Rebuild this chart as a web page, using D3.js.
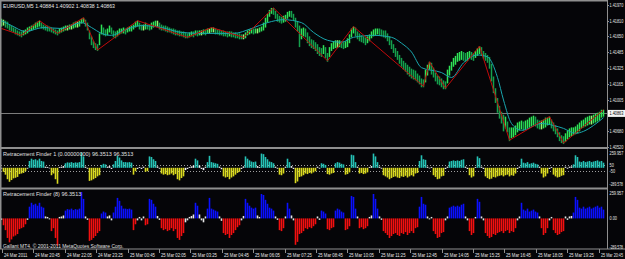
<!DOCTYPE html>
<html>
<head>
<meta charset="utf-8">
<script src="https://cdn.jsdelivr.net/npm/d3@7"></script>
<style>
html, body { margin: 0; padding: 0; background: #050508; }
svg { display: block; }
text { font-family: "Liberation Sans", Arial, sans-serif; }
</style>
</head>
<body>
<svg id="chart"></svg>
<script>
// EURUSD M5 bars, high / low per bar
const barHigh = [
1.4183,1.4182,1.4181,1.4180,1.4177,1.4176,1.4174,1.4173,1.4171,1.4170,
1.4170,1.4171,1.4172,1.4174,1.4175,1.4176,1.4177,1.4179,1.4180,1.4181,
1.4179,1.4177,1.4176,1.4176,1.4175,1.4174,1.4173,1.4172,1.4171,1.4173,
1.4174,1.4175,1.4176,1.4176,1.4177,1.4177,1.4179,1.4180,1.4180,1.4181,
1.4183,1.4184,1.4182,1.4179,1.4171,1.4165,1.4160,1.4158,1.4157,1.4168,
1.4177,1.4174,1.4172,1.4173,1.4176,1.4174,1.4171,1.4170,1.4171,1.4173,
1.4173,1.4174,1.4173,1.4174,1.4175,1.4176,1.4177,1.4180,1.4181,1.4179,
1.4177,1.4177,1.4179,1.4177,1.4177,1.4179,1.4180,1.4181,1.4181,1.4179,
1.4177,1.4176,1.4176,1.4175,1.4174,1.4173,1.4173,1.4172,1.4171,1.4171,
1.4170,1.4170,1.4169,1.4168,1.4169,1.4170,1.4170,1.4171,1.4171,1.4171,
1.4171,1.4172,1.4172,1.4173,1.4173,1.4174,1.4174,1.4173,1.4172,1.4172,
1.4171,1.4171,1.4170,1.4170,1.4170,1.4170,1.4169,1.4169,1.4168,1.4168,
1.4167,1.4167,1.4169,1.4171,1.4172,1.4173,1.4173,1.4173,1.4173,1.4174,
1.4175,1.4179,1.4184,1.4188,1.4192,1.4194,1.4194,1.4191,1.4188,1.4186,
1.4185,1.4186,1.4187,1.4190,1.4191,1.4191,1.4188,1.4184,1.4180,1.4176,
1.4173,1.4174,1.4173,1.4169,1.4165,1.4162,1.4161,1.4159,1.4157,1.4154,
1.4153,1.4156,1.4154,1.4148,1.4154,1.4158,1.4160,1.4161,1.4161,1.4161,
1.4160,1.4159,1.4160,1.4163,1.4167,1.4173,1.4175,1.4174,1.4170,1.4168,
1.4166,1.4165,1.4164,1.4165,1.4167,1.4170,1.4172,1.4173,1.4173,1.4173,
1.4172,1.4171,1.4171,1.4168,1.4165,1.4161,1.4157,1.4153,1.4150,1.4146,
1.4143,1.4140,1.4138,1.4136,1.4134,1.4132,1.4131,1.4130,1.4127,1.4125,
1.4122,1.4121,1.4131,1.4136,1.4139,1.4138,1.4133,1.4128,1.4125,1.4124,
1.4122,1.4120,1.4119,1.4131,1.4135,1.4139,1.4143,1.4145,1.4148,1.4149,
1.4150,1.4149,1.4148,1.4149,1.4150,1.4149,1.4148,1.4150,1.4153,1.4155,
1.4154,1.4150,1.4148,1.4146,1.4144,1.4137,1.4124,1.4112,1.4102,1.4094,
1.4088,1.4085,1.4083,1.4078,1.4072,1.4072,1.4072,1.4074,1.4077,1.4078,
1.4079,1.4078,1.4079,1.4080,1.4082,1.4083,1.4084,1.4083,1.4080,1.4079,
1.4079,1.4080,1.4082,1.4082,1.4083,1.4080,1.4077,1.4074,1.4071,1.4067,
1.4064,1.4063,1.4066,1.4069,1.4071,1.4072,1.4072,1.4073,1.4075,1.4077,
1.4079,1.4080,1.4082,1.4083,1.4084,1.4084,1.4085,1.4086,1.4087,1.4088,
1.4090,1.4090
];
const barLow = [
1.4176,1.4177,1.4175,1.4174,1.4172,1.4171,1.4170,1.4168,1.4167,1.4166,
1.4165,1.4167,1.4168,1.4169,1.4171,1.4172,1.4173,1.4174,1.4175,1.4176,
1.4174,1.4173,1.4172,1.4171,1.4171,1.4170,1.4169,1.4168,1.4167,1.4169,
1.4170,1.4171,1.4172,1.4172,1.4173,1.4173,1.4174,1.4175,1.4175,1.4176,
1.4179,1.4180,1.4176,1.4172,1.4163,1.4157,1.4154,1.4152,1.4151,1.4157,
1.4168,1.4167,1.4166,1.4167,1.4170,1.4168,1.4165,1.4164,1.4166,1.4168,
1.4169,1.4169,1.4168,1.4170,1.4171,1.4171,1.4173,1.4175,1.4176,1.4173,
1.4172,1.4172,1.4173,1.4173,1.4172,1.4173,1.4175,1.4176,1.4176,1.4173,
1.4172,1.4172,1.4171,1.4170,1.4170,1.4169,1.4168,1.4167,1.4167,1.4166,
1.4166,1.4165,1.4164,1.4164,1.4165,1.4166,1.4165,1.4167,1.4166,1.4167,
1.4167,1.4168,1.4167,1.4169,1.4169,1.4170,1.4170,1.4168,1.4168,1.4167,
1.4167,1.4166,1.4166,1.4165,1.4166,1.4165,1.4165,1.4164,1.4164,1.4163,
1.4163,1.4163,1.4164,1.4167,1.4168,1.4169,1.4168,1.4169,1.4169,1.4170,
1.4171,1.4172,1.4175,1.4180,1.4186,1.4189,1.4188,1.4184,1.4181,1.4180,
1.4179,1.4180,1.4181,1.4184,1.4186,1.4185,1.4182,1.4175,1.4171,1.4155,
1.4163,1.4166,1.4165,1.4159,1.4156,1.4154,1.4153,1.4151,1.4148,1.4146,
1.4145,1.4148,1.4144,1.4140,1.4145,1.4151,1.4153,1.4154,1.4154,1.4155,
1.4154,1.4153,1.4154,1.4155,1.4159,1.4165,1.4169,1.4166,1.4163,1.4161,
1.4160,1.4159,1.4157,1.4159,1.4161,1.4164,1.4166,1.4167,1.4168,1.4167,
1.4166,1.4165,1.4164,1.4161,1.4157,1.4153,1.4149,1.4145,1.4142,1.4138,
1.4135,1.4132,1.4130,1.4127,1.4125,1.4123,1.4122,1.4121,1.4119,1.4117,
1.4114,1.4114,1.4119,1.4126,1.4132,1.4127,1.4124,1.4120,1.4117,1.4116,
1.4114,1.4112,1.4112,1.4118,1.4126,1.4131,1.4135,1.4137,1.4140,1.4141,
1.4142,1.4141,1.4140,1.4141,1.4143,1.4142,1.4141,1.4144,1.4146,1.4148,
1.4146,1.4143,1.4141,1.4139,1.4133,1.4120,1.4108,1.4098,1.4088,1.4082,
1.4077,1.4069,1.4072,1.4068,1.4059,1.4062,1.4063,1.4065,1.4068,1.4070,
1.4071,1.4070,1.4071,1.4072,1.4073,1.4074,1.4075,1.4074,1.4072,1.4071,
1.4071,1.4072,1.4073,1.4075,1.4076,1.4072,1.4069,1.4066,1.4063,1.4059,
1.4057,1.4056,1.4058,1.4061,1.4063,1.4064,1.4065,1.4066,1.4067,1.4069,
1.4072,1.4073,1.4074,1.4075,1.4076,1.4076,1.4077,1.4078,1.4079,1.4080,
1.4083,1.4084
];

// moving average (cyan), read at a few bars
const maBar = [0,5,12,21,30,40,45,50,55,61,70,80,90,100,116,125,133,141,150,156,163,170,176,186,195,200,205,210,220,225,231,238,243,248,251,255,260,270,276,281,287,291,296,301];
const maVal = [1.4181,1.4176,1.4170,1.4174,1.4173,1.4179,1.4174,1.4168,1.4166,1.4171,1.4176,1.4174,1.4169,1.4168,1.4168,1.4173,1.4179,1.4182,1.4179,1.4169,1.4161,1.4159,1.4164,1.4166,1.4164,1.4158,1.4149,1.4133,1.4128,1.4123,1.4138,1.4146,1.4144,1.4123,1.4100,1.4076,1.4069,1.4076,1.4074,1.4071,1.4066,1.4068,1.4074,1.4082];

// zigzag (red) turning points
const zzBar = [0,10,19,28,41,48,68,93,105,121,136,163,176,211,214,222,239,254,274,281,301];
const zzVal = [1.4173,1.4166,1.4181,1.4168,1.4184,1.4151,1.4181,1.4164,1.4174,1.4164,1.4194,1.4140,1.4175,1.4114,1.4139,1.4112,1.4155,1.4059,1.4083,1.4056,1.4090];

// Retracement Finder histogram
const finder = [
-15,-70,-120,-200,-245,-215,-185,-175,-160,-110,
-100,-90,-60,-15,120,160,140,150,130,160,
120,110,20,15,-10,-130,-100,-200,-280,15,
20,30,80,95,90,100,85,95,90,100,
270,200,20,-15,-230,-220,-200,-180,-150,-130,
50,70,60,20,30,-20,60,120,210,180,
130,100,100,95,100,90,-120,-60,-20,15,
-20,20,-70,-60,200,190,150,120,25,-15,
-100,-120,-110,-130,-120,-100,-130,-110,-200,-220,
-180,-150,-40,-20,15,25,40,160,130,40,
-20,-40,20,100,210,100,90,80,70,20,
-25,-150,-170,-160,-200,-170,-150,-120,-90,-70,
-20,25,200,160,130,110,100,110,30,15,
250,240,190,150,110,100,80,20,-15,-120,
-130,-100,20,160,100,30,-20,-270,-240,-160,
-150,-130,-100,-110,-90,-100,-80,-60,20,-15,
80,70,50,-110,-120,-100,-90,80,100,90,
70,60,-120,-110,-80,230,220,100,20,-100,
-90,-110,-100,-80,15,30,250,200,100,20,
-15,-130,-150,-170,-200,-180,-160,-150,-170,-180,
-150,-160,-140,-170,-150,-130,-150,-100,-90,120,
220,150,140,20,-10,15,-130,-160,-200,-190,
-150,-140,-20,20,110,120,130,120,130,120,
140,150,20,-20,-130,-170,-150,15,200,170,
20,-20,-150,-180,-200,-190,-160,-170,-150,-140,
-130,-150,-130,-120,-150,-130,-140,-100,-20,20,
160,90,80,100,70,80,90,70,60,20,
-100,-170,-150,-100,-20,15,-120,-150,-170,-160,
-140,-130,20,-15,20,25,60,220,190,110,
100,120,100,110,120,100,110,120,130,110,
120,90
];

const priceTicks = [1.41970, 1.41810, 1.41650, 1.41485, 1.41325, 1.41165, 1.41005, 1.40845, 1.40680, 1.40520];
const lastQuote = { open: 1.40884, high: 1.40902, low: 1.40838, close: 1.40863 };
const timeLabels = ["24 Mar 2011","24 Mar 20:45","24 Mar 22:05","24 Mar 23:25","25 Mar 00:45","25 Mar 02:05",
  "25 Mar 03:25","25 Mar 04:45","25 Mar 06:05","25 Mar 07:25","25 Mar 08:45","25 Mar 10:05","25 Mar 11:25",
  "25 Mar 12:45","25 Mar 14:05","25 Mar 15:25","25 Mar 16:45","25 Mar 18:05","25 Mar 19:25","25 Mar 20:45"];
const finderTop = 259.957, finderBottom = -289.578;

const width = 625, height = 259;
const axisX = 607;
const grey = "#8f8f8f";
const fmt5 = d3.format(".5f");

const svg = d3.select("#chart").attr("width", width).attr("height", height);
svg.append("rect").attr("width", width).attr("height", height).style("fill", "#050508");

const x = d3.scaleLinear().domain([0, barHigh.length - 1]).range([1.5, 603.5]);
const y = d3.scaleLinear().domain([1.40520, 1.41970]).range([147, 5]);
const y1 = d3.scaleLinear().domain([finderBottom, finderTop]).range([184.3, 153]);
const y2 = d3.scaleLinear().domain([finderBottom, finderTop]).range([246.7, 193]);

// narrow terminal font: squeeze text horizontally
function narrowText(g, tx, ty, str, sx) {
    return g.append("text").attr("transform", `translate(${tx},${ty}) scale(${sx},1)`).text(str);
}

// ---- main window ----
const main = svg.append("g");
main.append("line").attr("x1", 1).attr("x2", axisX).attr("y1", Math.round(y(lastQuote.close)) + 0.5).attr("y2", Math.round(y(lastQuote.close)) + 0.5)
    .style("stroke", "#7c7c7c");

main.selectAll("line.bar").data(barHigh).enter().append("line").attr("class", "bar")
    .attr("x1", (d, i) => x(i)).attr("x2", (d, i) => x(i))
    .attr("y1", d => y(d)).attr("y2", (d, i) => y(barLow[i]) + 1)
    .style("stroke-width", 1.5)
    .style("stroke", (d, i) => {
        if (i === 0) return "#2fe356";
        const mid = d + barLow[i], prev = barHigh[i - 1] + barLow[i - 1];
        return mid > prev ? "#2fe356" : (mid < prev ? "#15a04c" : "#9af26e");
    });

const maLine = d3.line().x(d => x(d[0])).y(d => y(d[1])).curve(d3.curveMonotoneX);
main.append("path").datum(maBar.map((b, i) => [b, maVal[i]]))
    .attr("d", maLine).style("fill", "none").style("stroke", "#19a6ad").style("stroke-width", 1);

const zzLine = d3.line().x(d => x(d[0])).y(d => y(d[1]));
main.append("path").datum(zzBar.map((b, i) => [b, zzVal[i]]))
    .attr("d", zzLine).style("fill", "none").style("stroke", "#c20a0a").style("stroke-width", 1);

const head = main.append("g").attr("font-size", 5.5).style("fill", "#e8e8e8");
narrowText(head, 3, 8, "EURUSD,M5  " + [lastQuote.open, lastQuote.high, lastQuote.low, lastQuote.close].map(fmt5).join(" "), 0.95);

// ---- Retracement Finder 1 ----
const sub1 = svg.append("g");
[50, -50].forEach(v => {
    sub1.append("line").attr("x1", 1).attr("x2", axisX).attr("y1", Math.round(y1(v)) + 0.5).attr("y2", Math.round(y1(v)) + 0.5)
        .style("stroke", "#a0a0a0").style("stroke-dasharray", "1,2");
});
sub1.selectAll("rect.h1").data(finder).enter().append("rect").attr("class", "h1")
    .attr("x", (d, i) => x(i) - 0.8).attr("width", 1.6)
    .attr("y", d => Math.min(y1(d), y1(0))).attr("height", d => Math.abs(y1(d) - y1(0)))
    .style("fill", d => Math.abs(d) <= 40 ? "#f4f4f4" : (d > 0 ? "#25c2b6" : "#d9d920"));
sub1.append("text").attr("x", 3).attr("y", 156).style("fill", "#e0e0e0").attr("font-size", 5.5)
    .text("Retracement Finder 1 (0.00000000) 96.3513 96.3513");

// ---- Retracement Finder ----
const sub2 = svg.append("g");
sub2.selectAll("rect.h2").data(finder).enter().append("rect").attr("class", "h2")
    .attr("x", (d, i) => x(i) - 0.8).attr("width", 1.6)
    .attr("y", d => Math.min(y2(d), y2(0))).attr("height", d => Math.abs(y2(d) - y2(0)))
    .style("fill", d => Math.abs(d) <= 40 ? "#e6e6e6" : (d > 0 ? "#0a10ff" : "#f21010"));
const sub2Text = sub2.append("g").attr("font-size", 5.5).style("fill", "#e0e0e0");
sub2Text.append("text").attr("x", 3).attr("y", 196).text("Retracement Finder (8) 96.3513");
narrowText(sub2Text, 3, 248, "Gallant MT4, \u00a9 2001-2011 MetaQuotes Software Corp.", 0.9);

// ---- frames ----
const frame = svg.append("g").style("fill", grey);
frame.append("rect").attr("x", 0).attr("y", 0).attr("width", axisX + 1).attr("height", 1.5);
frame.append("rect").attr("x", 0).attr("y", 0).attr("width", 1.5).attr("height", 249);
frame.append("rect").attr("x", 0).attr("y", 147).attr("width", axisX + 1).attr("height", 2);
frame.append("rect").attr("x", 0).attr("y", 187.5).attr("width", axisX + 1).attr("height", 2);
frame.append("rect").attr("x", 0).attr("y", 248.5).attr("width", width).attr("height", 1);
frame.append("rect").attr("x", axisX).attr("y", 0).attr("width", 1).attr("height", 249);

// ---- price axis ----
const yAxis = svg.append("g").attr("font-size", 5.5).style("fill", "#e6e6e6");
const yc = y(lastQuote.close);
priceTicks.forEach(p => {
    yAxis.append("line").attr("x1", axisX).attr("x2", axisX + 2).attr("y1", Math.round(y(p)) + 0.5).attr("y2", Math.round(y(p)) + 0.5).style("stroke", grey);
    if (Math.abs(y(p) - yc) < 7) return; // hidden under the bid label, as in the terminal
    narrowText(yAxis, axisX + 2.5, y(p) + 2, fmt5(p), 0.7);
});
yAxis.append("rect").attr("x", axisX + 1).attr("y", yc - 3.5).attr("width", width - axisX).attr("height", 7).style("fill", "#f4f4f4");
narrowText(yAxis, axisX + 2.5, yc + 2, fmt5(lastQuote.close), 0.7).style("fill", "#000");

[[y1, [finderTop, 50, -50, finderBottom], ["259.957", "50", "-50", "-289.578"]],
 [y2, [finderTop, 0, finderBottom], ["259.957", "0.00", "-289.578"]]].forEach(([sc, vals, labs]) => {
    vals.forEach((v, k) => {
        narrowText(yAxis, axisX + 2.5, sc(v) + 2, labs[k], labs[k].length > 7 ? 0.62 : 0.7);
    });
});

// ---- time axis ----
const start = new Date(2011, 2, 24, 19, 25);
const xt = d3.scaleTime().domain([start, d3.timeMinute.offset(start, 80 * 19)]).range([2, 2 + 31.4 * 19]);
const tAxis = svg.append("g").attr("font-size", 5.5).style("fill", "#e6e6e6");
timeLabels.forEach((lab, k) => {
    const tx = Math.round(xt(d3.timeMinute.offset(start, 80 * k))) + 0.5;
    tAxis.append("line").attr("x1", tx).attr("x2", tx).attr("y1", 249).attr("y2", 253).style("stroke", grey);
    narrowText(tAxis, tx + 1.5, 257, lab, k === timeLabels.length - 1 ? 0.68 : 0.77);
});
</script>
</body>
</html>
